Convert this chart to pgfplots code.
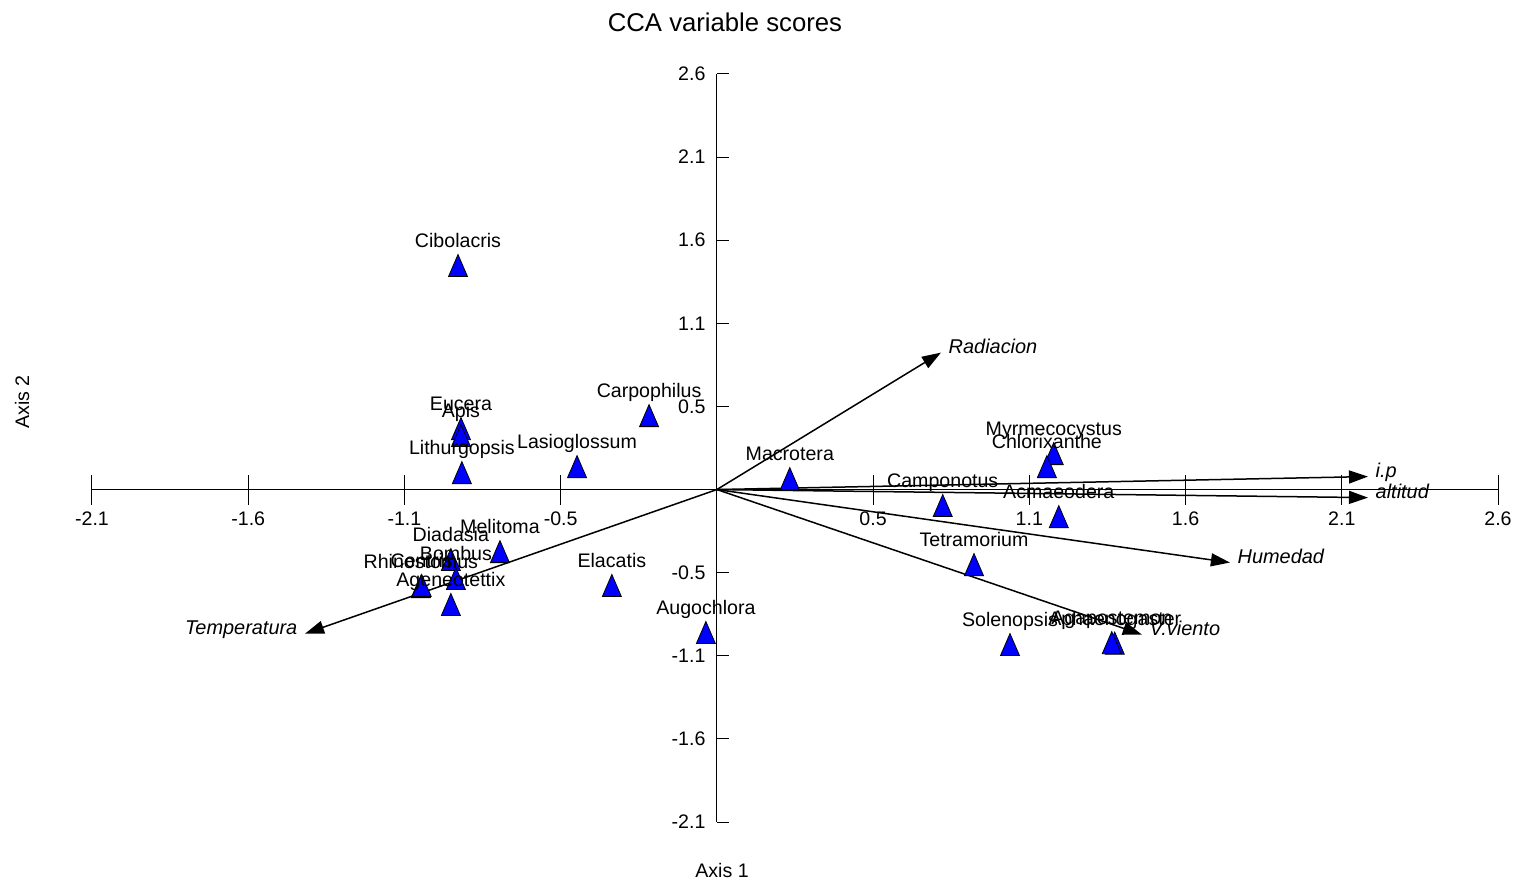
\documentclass[border=0pt]{standalone}
\usepackage{pgfplots}
\pgfplotsset{compat=1.18}
\usepackage{pgfplotstable}
\usepackage{fontspec}
\setmainfont{Liberation Sans}
\usetikzlibrary{arrows.meta}

\pgfplotstableread{
x y label
-0.870 1.415 Cibolacris
-0.860 0.385 Eucera
-0.860 0.341 Apis
-0.857 0.107 Lithurgopsis
-0.470 0.145 Lasioglossum
-0.228 0.467 Carpophilus
0.245 0.069 Macrotera
0.759 -0.101 Camponotus
1.132 0.227 Myrmecocystus
1.109 0.145 Chlorixanthe
1.149 -0.171 Acmaeodera
0.864 -0.474 Tetramorium
0.985 -0.979 Solenopsis
1.337 -0.970 Aphaenogaster
1.327 -0.967 Agapostemon
-0.729 -0.392 Melitoma
-0.894 -0.442 Diadasia
-0.877 -0.562 Bombus
-0.995 -0.613 Rhinostomus
-0.992 -0.606 Centris
-0.894 -0.726 Ageneotettix
-0.353 -0.606 Elacatis
-0.037 -0.903 Augochlora
}\species

\begin{document}
\begin{tikzpicture}[font=\fontsize{9.8bp}{11.8bp}\selectfont]
\begin{axis}[
  at={(0,0)}, anchor=south west,
  scale only axis, width=703bp, height=374bp,
  xmin=-2.1, xmax=2.625, ymin=-2.1, ymax=2.625,
  axis lines=middle,
  axis line style={-, line width=0.5bp, black},
  clip=false,
  xtick={-2.1,-1.575,-1.05,-0.525,0.525,1.05,1.575,2.1,2.625},
  xticklabels={-2.1,-1.6,-1.1,-0.5,0.5,1.1,1.6,2.1,2.6},
  ytick={-2.1,-1.575,-1.05,-0.525,0.525,1.05,1.575,2.1,2.625},
  yticklabels={-2.1,-1.6,-1.1,-0.5,0.5,1.1,1.6,2.1,2.6},
  major tick length=15bp, tick align=center,
  tick style={black, line width=0.5bp},
  ytick style={draw=none},
  xticklabel style={anchor=north, inner sep=0pt, yshift=-3.5bp},
  yticklabel style={anchor=east, inner sep=0pt, xshift=2bp},
]
\pgfplotsinvokeforeach{-2.1,-1.575,-1.05,-0.525,0.525,1.05,1.575,2.1,2.625}{
  \draw[line width=0.5bp] (axis cs:0,#1) -- (axis cs:0.0403,#1);
}
\addplot[only marks, mark=triangle*, mark size=5.48bp,
  mark options={yshift=-1.84bp, yscale=1.34, fill=blue, draw=black, line width=0.4bp},
  nodes near coords, point meta=explicit symbolic,
  every node near coord/.append style={anchor=base, inner sep=0pt, yshift=10.75bp, black}]
  table[x=x, y=y, meta=label] {\species};

\addplot[black, line width=0.75bp, -{Triangle[length=9.5bp,width=6.5bp]}]
  coordinates {(0,0) (0.753,0.865)}
  node[pos=1, anchor=base west, inner sep=0pt, xshift=3.5bp, yshift=-0.6bp, font=\itshape] {Radiacion};
\addplot[black, line width=0.75bp, -{Triangle[length=9.5bp,width=6.5bp]}]
  coordinates {(0,0) (2.188,0.082)}
  node[pos=1, anchor=base west, inner sep=0pt, xshift=3.5bp, yshift=-0.6bp, font=\itshape] {i.p};
\addplot[black, line width=0.75bp, -{Triangle[length=9.5bp,width=6.5bp]}]
  coordinates {(0,0) (2.188,-0.051)}
  node[pos=1, anchor=base west, inner sep=0pt, xshift=3.5bp, yshift=-0.6bp, font=\itshape] {altitud};
\addplot[black, line width=0.75bp, -{Triangle[length=9.5bp,width=6.5bp]}]
  coordinates {(0,0) (1.724,-0.461)}
  node[pos=1, anchor=base west, inner sep=0pt, xshift=3.5bp, yshift=-0.6bp, font=\itshape] {Humedad};
\addplot[black, line width=0.75bp, -{Triangle[length=9.5bp,width=6.5bp]}]
  coordinates {(0,0) (1.428,-0.916)}
  node[pos=1, anchor=base west, inner sep=0pt, xshift=3.5bp, yshift=-0.6bp, font=\itshape] {V.viento};
\addplot[black, line width=0.75bp, -{Triangle[length=9.5bp,width=6.5bp]}]
  coordinates {(0,0) (-1.384,-0.910)}
  node[pos=1, anchor=base east, inner sep=0pt, xshift=-3.5bp, yshift=-0.6bp, font=\itshape] {Temperatura};
\end{axis}
\node[font=\fontsize{12.85bp}{15bp}\selectfont] at (316.5bp,400bp) {CCA variable scores};
\node at (315bp,-24bp) {Axis 1};
\node[rotate=90] at (-35bp,210bp) {Axis 2};
\pgfresetboundingbox
\useasboundingbox (-46bp,-30bp) rectangle (713bp,411bp);
\end{tikzpicture}
\end{document}
